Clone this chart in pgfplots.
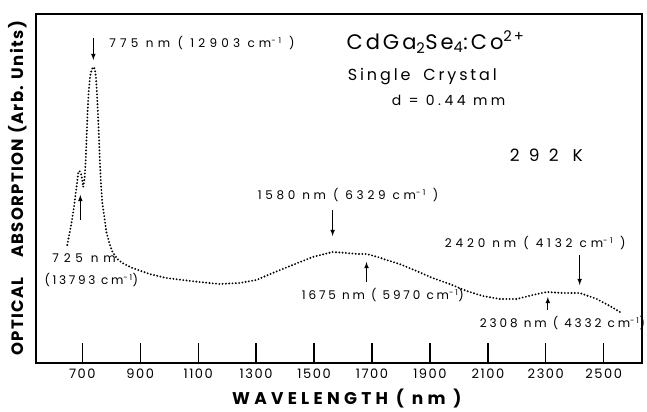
\documentclass[border=0pt]{standalone}
\usepackage{fontspec}
\setmainfont{Poppins}
\usepackage{pgfplots}
\pgfplotsset{compat=1.18}
\usepackage{pgfplotstable}
\pgfplotstableread{
x y
648 118
662 139
672 158
683 183
686 191
690 192
697 188
703 176
708 185
712 205
715 228
718 250
722 272
727 287
733 294
738 296
743 294
747 286
750 272
753 255
757 228
760 205
764 180
769 160
776 146
783 131
793 120
804 111
821 104
838 100
873 95
932 89
990 85
1046 83
1104 81
1173 79
1242 80
1301 83
1357 90
1426 98
1495 106
1564 111
1612 110
1650 109
1681 109
1720 106
1750 103
1795 99
1854 92
1909 85
1968 79
2027 72
2082 67
2141 64
2200 64
2255 68
2303 71
2359 70
2417 70
2476 64
2521 57
2556 51
}\spectrum
\newcommand{\ann}[1]{\fontsize{12}{14}\selectfont\addfontfeature{LetterSpace=#1}}
\newcommand{\cmi}{cm\textsuperscript{-1}}
\tikzset{lab/.style={inner sep=0pt, anchor=west}}
\begin{document}
\begin{tikzpicture}
\begin{axis}[
  scale only axis,
  width=606pt, height=349pt,
  xmin=540, xmax=2632, ymin=0, ymax=349,
  clip=false,
  axis line style={line width=1.5pt},
  xtick={700,900,...,2500},
  ytick=\empty,
  tick align=inside,
  xtick pos=bottom,
  major tick length=20pt,
  tick style={line width=1.3pt, black},
  /pgf/number format/assume math mode=true,
  /pgf/number format/set thousands separator={},
  xticklabel style={font=\fontsize{13}{15}\selectfont\addfontfeature{LetterSpace=12}, yshift=-2pt},
  xlabel={WAVELENGTH ( nm )},
  xlabel style={at={(rel axis cs:0.513,0)}, anchor=center, yshift=-36pt, font=\fontsize{17}{19}\selectfont\bfseries\addfontfeature{LetterSpace=25}},
  ylabel={OPTICAL\hspace{1.2em}ABSORPTION (Arb. Units)},
  ylabel style={at={(axis description cs:-0.0297,0.5)}, anchor=center, font=\fontsize{16.5}{18}\selectfont\bfseries\addfontfeature{LetterSpace=8}},
]
\addplot[black, line width=2.1pt, line cap=round, dash pattern=on 0pt off 3.3pt] table[x=x,y=y] {\spectrum};

\node[lab, font=\ann{35}] at (axis cs:793,320) {775 nm ( 12903 \cmi\ )};
\node[lab, font=\fontsize{21}{23}\selectfont\addfontfeature{LetterSpace=14}] at (axis cs:1612,321) {CdGa\textsubscript{2}Se\textsubscript{4}:Co\textsuperscript{2+}};
\node[lab, font=\fontsize{16}{18}\selectfont\addfontfeature{LetterSpace=18}] at (axis cs:1616,286) {Single\hspace{0.8em}Crystal};
\node[lab, font=\fontsize{14}{16}\selectfont\addfontfeature{LetterSpace=25}] at (axis cs:1768,263) {d = 0.44 mm};
\node[lab, font=\fontsize{17}{19}\selectfont\addfontfeature{LetterSpace=55}] at (axis cs:2175,208) {292 K};
\node[lab, font=\ann{31}] at (axis cs:1305,168) {1580 nm ( 6329 \cmi\ )};
\node[lab, font=\ann{24}] at (axis cs:1457,68) {1675 nm ( 5970 \cmi )};
\node[lab, font=\ann{32}] at (axis cs:1951,120) {2420 nm ( 4132 \cmi\ )};
\node[lab, font=\ann{24}] at (axis cs:2072,40) {2308 nm ( 4332 \cmi)};
\node[lab, font=\ann{40}] at (axis cs:596,105) {725 nm};
\node[lab, font=\ann{22}] at (axis cs:569,83) {(13793 \cmi)};

\draw[-latex, line width=1.1pt] (axis cs:738,325) -- (axis cs:738,303);
\draw[-latex, line width=1.1pt] (axis cs:1564,153) -- (axis cs:1564,127);
\draw[-latex, line width=1.1pt] (axis cs:1681,81) -- (axis cs:1681,101);
\draw[-latex, line width=1.1pt] (axis cs:2417,108) -- (axis cs:2417,78);
\draw[-latex, line width=1.1pt] (axis cs:2307,53) -- (axis cs:2307,66);
\draw[-latex, line width=1.1pt] (axis cs:693,143) -- (axis cs:693,168);

\path (rel axis cs:-0.0594,-0.1347) rectangle (rel axis cs:1.0083,1.0401);
\end{axis}
\end{tikzpicture}
\end{document}
